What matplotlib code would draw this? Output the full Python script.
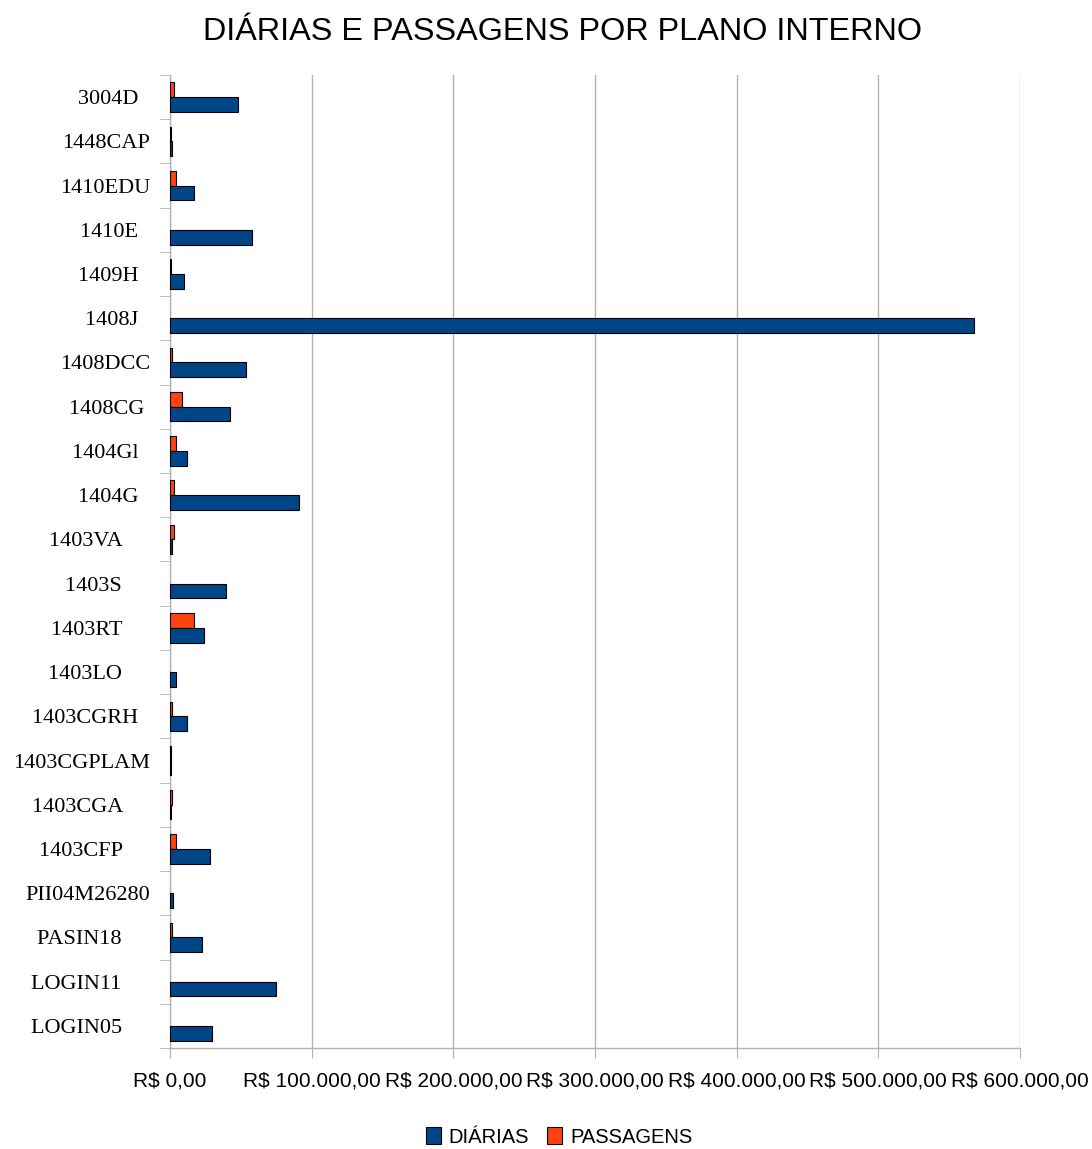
import matplotlib
matplotlib.use("Agg")
import matplotlib.pyplot as plt
from matplotlib.ticker import FixedLocator
import numpy as np

# categories top -> bottom (trailing spaces as in the source labels)
planos = ["3004D  ", "1448CAP", "1410EDU", "1410E  ", "1409H  ", "1408J  ",
          "1408DCC", "1408CG ", "1404Gl  ", "1404G  ", "1403VA     ",
          "1403S     ", "1403RT     ", "1403LO     ", "1403CGRH  ",
          "1403CGPLAM", "1403CGA     ", "1403CFP     ", "PII04M26280",
          "PASIN18     ", "LOGIN11     ", "LOGIN05     "]

diarias = [47800, 1400, 17000, 57900, 9900, 567300,
           53600, 42600, 11800, 91300, 1300,
           39500, 24000, 4200, 12300,
           1000, 800, 28500, 2100,
           22800, 75100, 29900]

passagens = [2800, 1000, 4200, 0, 1000, 0,
             1500, 8500, 4200, 3100, 3000,
             0, 17200, 0, 1200,
             500, 1200, 4200, 0,
             1200, 0, 0]

x_ticks = [0, 100000, 200000, 300000, 400000, 500000, 600000]
x_labels = ["R$ 0,00", "R$ 100.000,00", "R$ 200.000,00", "R$ 300.000,00",
            "R$ 400.000,00", "R$ 500.000,00", "R$ 600.000,00"]

azul = "#004586"
laranja = "#ff420e"
cinza = "#b3b3b3"

fig = plt.figure(figsize=(10.92, 11.49), dpi=100)
ax = fig.add_axes([170 / 1092, 1 - 1048 / 1149, 850 / 1092, (1048 - 75) / 1149])

y = np.arange(len(planos))
h = 1 / 3

b_pas = ax.barh(y - h / 2, passagens, height=h, color=laranja,
                edgecolor="black", linewidth=0.8, label="PASSAGENS", zorder=3)
b_dia = ax.barh(y + h / 2, diarias, height=h, color=azul,
                edgecolor="black", linewidth=0.8, label="DIÁRIAS", zorder=3)
for bars, vals in ((b_pas, passagens), (b_dia, diarias)):
    for p, v in zip(bars, vals):
        if v == 0:
            p.set_linewidth(0)

ax.set_xlim(0, 600000)
ax.set_ylim(len(planos) - 0.5, -0.5)

ax.set_xticks(x_ticks)
ax.set_xticklabels(x_labels, fontfamily="Liberation Sans", fontsize=15)
ax.tick_params(axis="x", length=7, color=cinza, pad=10)

ax.set_yticks(y)
ax.set_yticklabels(planos, fontfamily="Liberation Serif", fontsize=16)
ax.tick_params(axis="y", which="major", length=0, pad=14.5)
ax.yaxis.set_minor_locator(FixedLocator(np.arange(-0.5, len(planos), 1.0)))
ax.tick_params(axis="y", which="minor", length=7, color=cinza)

ax.grid(axis="x", color=cinza, linewidth=1, zorder=0)
for s in ("top", "right"):
    ax.spines[s].set_visible(False)
for s in ("left", "bottom"):
    ax.spines[s].set_color(cinza)
    ax.spines[s].set_linewidth(1)

fig.text(0.515, 1 - 32 / 1149, "DIÁRIAS E PASSAGENS POR PLANO INTERNO",
         ha="center", va="center", fontfamily="Liberation Sans", fontsize=23.3)

fig.legend(handles=[b_dia, b_pas], labels=["DIÁRIAS", "PASSAGENS"],
           loc="center", bbox_to_anchor=(0.512, 1 - 1137 / 1149), ncol=2,
           frameon=False, prop={"family": "Liberation Sans", "size": 14.5},
           handlelength=0.75, handleheight=0.9, handletextpad=0.4,
           columnspacing=0.9)

fig.savefig("out.png", dpi=100)
